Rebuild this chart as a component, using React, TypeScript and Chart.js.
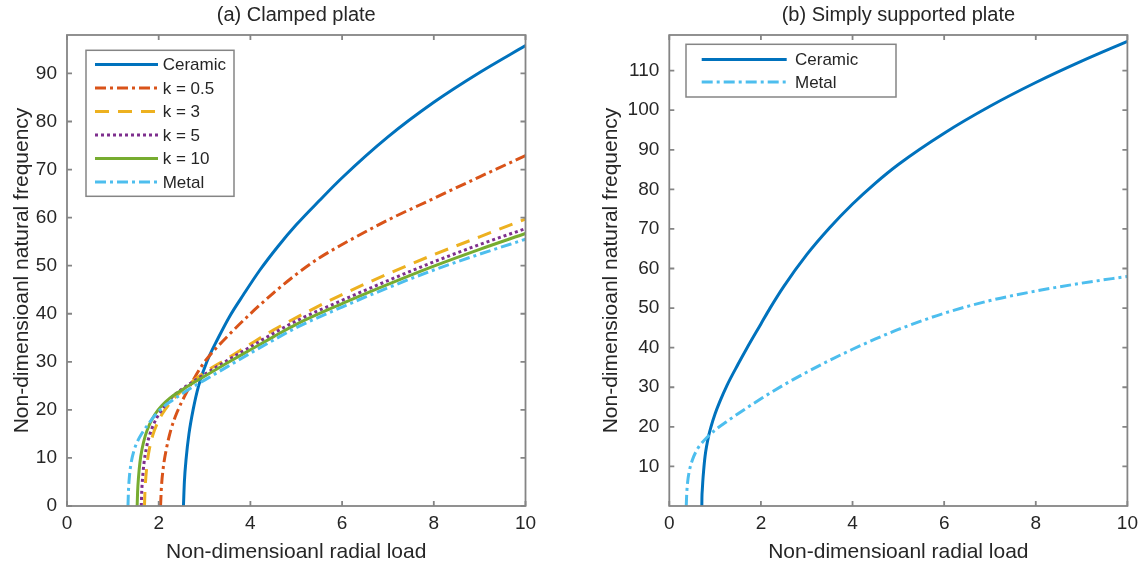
import React, { useEffect, useRef } from "react";
import { Chart, registerables } from "chart.js";

Chart.register(...registerables);

const FONT = "'Liberation Sans', Arial, Helvetica, sans-serif";
const TEXT = "#262626";
const AXIS = "#858585";

const X_LABEL = "Non-dimensioanl radial load";
const Y_LABEL = "Non-dimensioanl natural frequency";
const TITLE_A = "(a) Clamped plate";
const TITLE_B = "(b) Simply supported plate";

const xTicks = [0, 2, 4, 6, 8, 10];
const yTicksA = [0, 10, 20, 30, 40, 50, 60, 70, 80, 90];
const yTicksB = [10, 20, 30, 40, 50, 60, 70, 80, 90, 100, 110];

const labelsA = ["Ceramic", "k = 0.5", "k = 3", "k = 5", "k = 10", "Metal"];
const labelsB = ["Ceramic", "Metal"];

// (a) Clamped plate
const ceramicAX = [2.54, 2.56, 2.6, 2.66, 2.75, 2.87, 3.05, 3.3, 3.55, 3.85, 4.2, 4.6, 5, 5.5, 6, 7, 8, 9, 10];
const ceramicAY = [0, 5, 10, 15, 20, 25, 30, 35, 39.5, 44, 49, 54, 58.5, 63.5, 68.3, 76.8, 84, 90.2, 95.8];

const k05AX = [2.04, 2.06, 2.1, 2.17, 2.27, 2.4, 2.6, 2.8, 3, 3.5, 4, 4.5, 5, 5.5, 6, 7, 8, 9, 10];
const k05AY = [0, 4, 8, 12, 16, 19.5, 23.5, 27, 30, 35.3, 40, 44.3, 48.2, 51.6, 54.4, 59.5, 64, 68.5, 72.9];

const k3AX = [1.69, 1.7, 1.72, 1.75, 1.8, 1.87, 1.96, 2.08, 2.23, 2.4, 2.58, 2.75, 3, 3.5, 4, 4.5, 5, 6, 7, 8, 9, 10];
const k3AY = [0, 3, 6, 9, 12, 14.7, 17, 19.2, 21.2, 23, 24.6, 26, 27.8, 30.7, 33.7, 36.6, 39.2, 44, 48.3, 52.3, 56, 59.7];

const k5AX = [1.62, 1.63, 1.65, 1.68, 1.73, 1.8, 1.89, 2.01, 2.16, 2.33, 2.52, 2.75, 3, 3.5, 4, 4.5, 5, 6, 7, 8, 9, 10];
const k5AY = [0, 3, 6, 9, 12, 14.7, 17, 19.2, 21.2, 23, 24.4, 25.9, 27.4, 30.3, 33.1, 35.9, 38.5, 42.8, 46.9, 50.8, 54.4, 57.7];

const k10AX = [1.53, 1.54, 1.56, 1.59, 1.64, 1.71, 1.8, 1.92, 2.07, 2.25, 2.5, 2.75, 3, 3.5, 4, 4.5, 5, 6, 7, 8, 9, 10];
const k10AY = [0, 3, 6, 9, 12, 14.7, 17, 19.1, 20.9, 22.5, 24.1, 25.6, 27, 29.8, 32.5, 35.2, 37.8, 42.1, 46.1, 49.9, 53.4, 56.7];

const metalAX = [1.33, 1.34, 1.36, 1.4, 1.46, 1.54, 1.64, 1.77, 1.93, 2.1, 2.3, 2.5, 2.75, 3, 3.5, 4, 4.5, 5, 6, 7, 8, 9, 10];
const metalAY = [0, 3, 6, 9, 11.5, 13.5, 15.2, 17, 19, 20.6, 22, 23.3, 24.8, 26.2, 29, 31.8, 34.5, 37.1, 41.4, 45.4, 49.1, 52.4, 55.5];

// (b) Simply supported plate
const ceramicBX = [0.71, 0.712, 0.72, 0.73, 0.75, 0.78, 0.82, 0.86, 0.91, 1.0, 1.1, 1.26, 1.5, 1.69, 2, 2.2, 2.5, 3, 3.5, 4, 4.5, 5, 6, 7, 8, 9, 10];
const ceramicBY = [0, 2, 4, 6, 9, 12.5, 15.5, 17.8, 20, 23.3, 26.3, 30.5, 35.8, 39.8, 46, 50, 55.5, 63.5, 70.3, 76.3, 81.6, 86.3, 94.2, 101, 107, 112.4, 117.4];

const metalBX = [0.37, 0.38, 0.4, 0.44, 0.5, 0.58, 0.68, 0.82, 1.0, 1.25, 1.5, 2, 2.5, 3, 3.5, 4, 4.5, 5, 6, 7, 8, 9, 10];
const metalBY = [0, 3, 6, 9, 11.5, 13.7, 15.5, 17.3, 19.2, 21.3, 23.3, 27.1, 30.6, 33.8, 36.8, 39.6, 42.2, 44.6, 48.7, 51.9, 54.3, 56.3, 58];

const C_BLUE = "#0072BD";
const C_ORANGE = "#D95319";
const C_YELLOW = "#EDB120";
const C_PURPLE = "#7E2F8E";
const C_GREEN = "#77AC30";
const C_CYAN = "#4DBEEE";

const DASH_SOLID: number[] = [];
const DASH_DASHDOT = [11, 4, 3, 4];
const DASH_DASHED = [14, 9];
const DASH_DOTTED = [3, 3];

function makeDataset(label: string, xs: number[], ys: number[], color: string, dash: number[], order: number) {
  return {
    label,
    data: xs.map((x, i) => ({ x, y: ys[i] })),
    borderColor: color,
    backgroundColor: color,
    borderDash: dash,
    borderWidth: 3,
    pointRadius: 0,
    fill: false,
    cubicInterpolationMode: "monotone",
    order,
  };
}

const matlabAxes = {
  id: "matlabAxes",
  afterDraw(chart: any, _args: any, opts: any) {
    const { ctx, chartArea } = chart;
    const { left, right, top, bottom } = chartArea;
    const xs = chart.scales.x;
    const ys = chart.scales.y;
    ctx.save();
    ctx.strokeStyle = AXIS;
    ctx.lineWidth = 1.8;
    ctx.setLineDash([]);
    ctx.strokeRect(left, top, right - left, bottom - top);
    const tl = 5;
    ctx.beginPath();
    xs.ticks.forEach((t: any) => {
      const px = xs.getPixelForValue(t.value);
      ctx.moveTo(px, bottom);
      ctx.lineTo(px, bottom - tl);
      ctx.moveTo(px, top);
      ctx.lineTo(px, top + tl);
    });
    ys.ticks.forEach((t: any) => {
      const py = ys.getPixelForValue(t.value);
      ctx.moveTo(left, py);
      ctx.lineTo(left + tl, py);
      ctx.moveTo(right, py);
      ctx.lineTo(right - tl, py);
    });
    ctx.stroke();

    const lg = opts && opts.legend;
    if (lg) {
      const bx = left + lg.x;
      const by = top + lg.y;
      ctx.fillStyle = "#ffffff";
      ctx.fillRect(bx, by, lg.w, lg.h);
      ctx.strokeStyle = AXIS;
      ctx.lineWidth = 1.5;
      ctx.strokeRect(bx, by, lg.w, lg.h);
      ctx.font = `${lg.fontSize}px ${FONT}`;
      ctx.textBaseline = "middle";
      ctx.textAlign = "left";
      chart.data.datasets.forEach((ds: any, i: number) => {
        const yy = by + lg.rowY0 + i * lg.rowGap;
        ctx.beginPath();
        ctx.setLineDash(ds.borderDash || []);
        ctx.strokeStyle = ds.borderColor;
        ctx.lineWidth = ds.borderWidth;
        ctx.moveTo(bx + lg.lineX0, yy);
        ctx.lineTo(bx + lg.lineX0 + lg.lineLen, yy);
        ctx.stroke();
        ctx.setLineDash([]);
        ctx.fillStyle = TEXT;
        ctx.fillText(ds.label, bx + lg.textX, yy + 1);
      });
    }
    ctx.restore();
  },
};

function buildConfig(p: any) {
  return {
    type: "line",
    data: { datasets: p.datasets },
    options: {
      responsive: false,
      animation: false,
      devicePixelRatio: 1,
      layout: { padding: { left: 0, right: p.padRight, top: 0, bottom: 0 } },
      plugins: {
        legend: { display: false },
        tooltip: { enabled: false },
        title: {
          display: true,
          text: p.title,
          fullSize: false,
          color: TEXT,
          font: { family: FONT, size: 20, weight: "normal" },
          padding: { top: 3, bottom: 8 },
        },
        matlabAxes: { legend: p.legend },
      },
      scales: {
        x: {
          type: "linear",
          min: 0,
          max: 10,
          afterBuildTicks: (s: any) => {
            s.ticks = xTicks.map((v) => ({ value: v }));
          },
          afterFit: (s: any) => {
            s.height = 65;
          },
          grid: { display: false, drawTicks: false },
          border: { display: false },
          ticks: { color: TEXT, font: { family: FONT, size: 19 }, padding: 6, maxRotation: 0, autoSkip: false },
          title: {
            display: true,
            text: X_LABEL,
            color: TEXT,
            font: { family: FONT, size: 21 },
            padding: { top: 0, bottom: 6 },
          },
        },
        y: {
          type: "linear",
          min: 0,
          max: p.yMax,
          afterBuildTicks: (s: any) => {
            s.ticks = p.yTicks.map((v: number) => ({ value: v }));
          },
          afterFit: (s: any) => {
            s.width = p.yWidth;
          },
          grid: { display: false, drawTicks: false },
          border: { display: false },
          ticks: { color: TEXT, font: { family: FONT, size: 19 }, padding: 10, autoSkip: false },
          title: {
            display: true,
            text: Y_LABEL,
            color: TEXT,
            font: { family: FONT, size: 21 },
            padding: { top: p.yTitlePad, bottom: 0 },
          },
        },
      },
    },
    plugins: [matlabAxes],
  };
}

export default function App() {
  const refA = useRef<HTMLCanvasElement | null>(null);
  const refB = useRef<HTMLCanvasElement | null>(null);

  useEffect(() => {
    const datasetsA = [
      makeDataset(labelsA[0], ceramicAX, ceramicAY, C_BLUE, DASH_SOLID, 5),
      makeDataset(labelsA[1], k05AX, k05AY, C_ORANGE, DASH_DASHDOT, 4),
      makeDataset(labelsA[2], k3AX, k3AY, C_YELLOW, DASH_DASHED, 3),
      makeDataset(labelsA[3], k5AX, k5AY, C_PURPLE, DASH_DOTTED, 2),
      makeDataset(labelsA[4], k10AX, k10AY, C_GREEN, DASH_SOLID, 1),
      makeDataset(labelsA[5], metalAX, metalAY, C_CYAN, DASH_DASHDOT, 0),
    ];
    const datasetsB = [
      makeDataset(labelsB[0], ceramicBX, ceramicBY, C_BLUE, DASH_SOLID, 1),
      makeDataset(labelsB[1], metalBX, metalBY, C_CYAN, DASH_DASHDOT, 0),
    ];
    const chartA = new Chart(
      refA.current as HTMLCanvasElement,
      buildConfig({
        datasets: datasetsA,
        title: TITLE_A,
        yMax: 98,
        yTicks: yTicksA,
        yWidth: 67,
        yTitlePad: 9.4,
        padRight: 47.5,
        legend: { x: 19, y: 15.3, w: 148, h: 146, rowY0: 14.3, rowGap: 23.5, lineX0: 9, lineLen: 63, textX: 76.7, fontSize: 17 },
      }) as any
    );
    const chartB = new Chart(
      refB.current as HTMLCanvasElement,
      buildConfig({
        datasets: datasetsB,
        title: TITLE_B,
        yMax: 119,
        yTicks: yTicksB,
        yWidth: 96.3,
        yTitlePad: 25.4,
        padRight: 18.6,
        legend: { x: 16.7, y: 9.3, w: 210, h: 52.7, rowY0: 15.3, rowGap: 22.4, lineX0: 15.7, lineLen: 85, textX: 109, fontSize: 17 },
      }) as any
    );
    return () => {
      chartA.destroy();
      chartB.destroy();
    };
  }, []);

  return (
    <div style={{ position: "absolute", left: 0, top: 0, width: 1146, height: 571, background: "#ffffff" }}>
      <canvas ref={refA} width={573} height={571} style={{ position: "absolute", left: 0, top: 0, display: "block" }} />
      <canvas ref={refB} width={573} height={571} style={{ position: "absolute", left: 573, top: 0, display: "block" }} />
    </div>
  );
}
